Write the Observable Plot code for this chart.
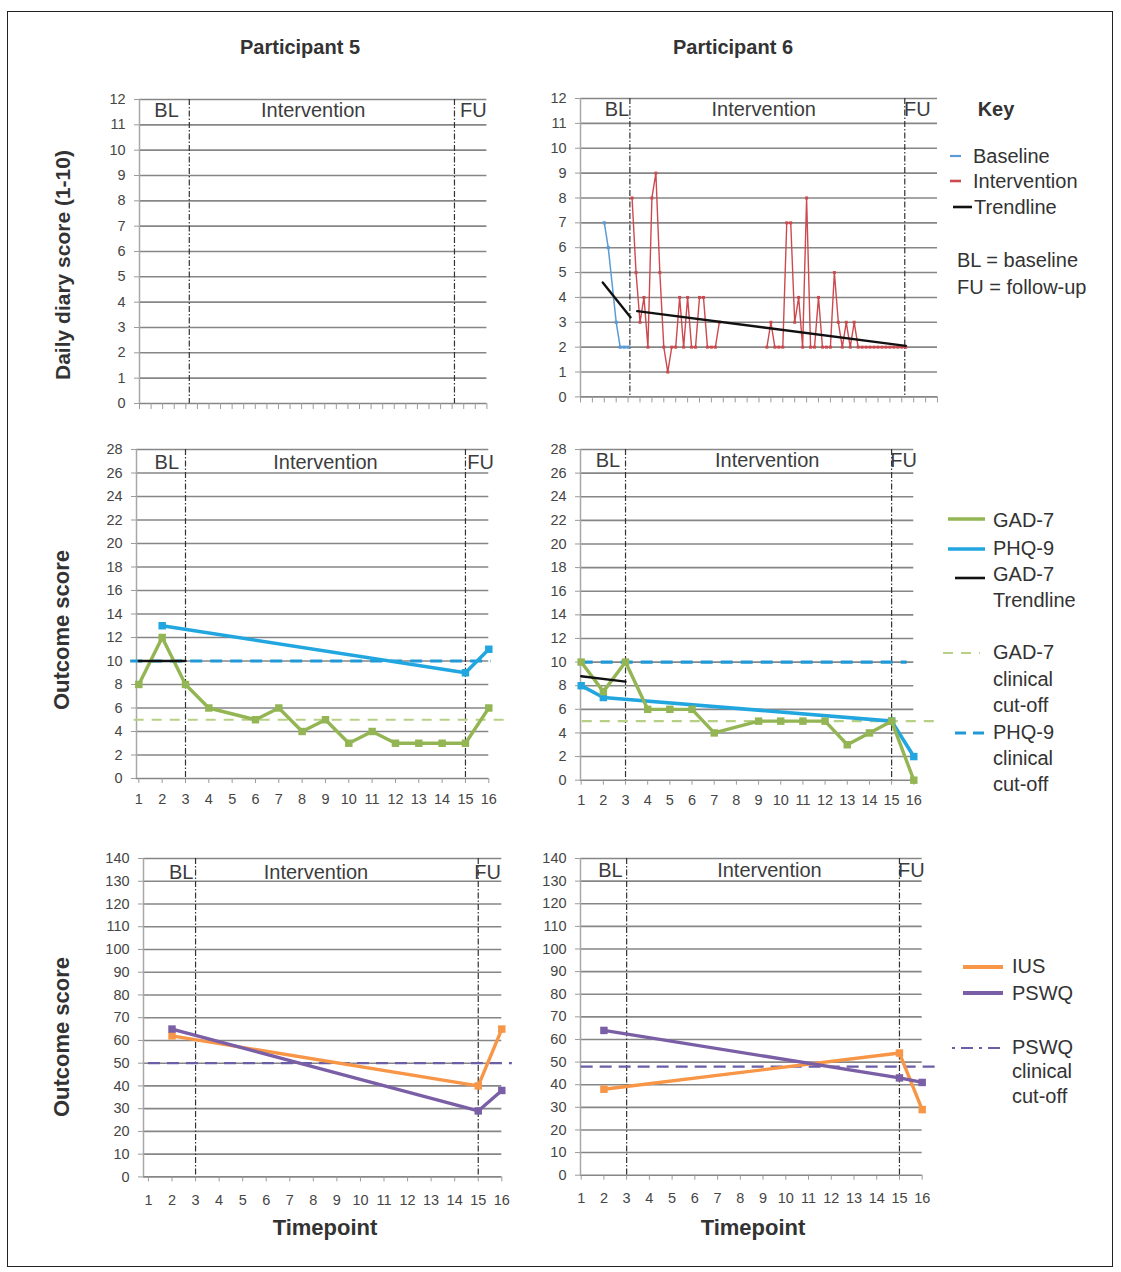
<!DOCTYPE html>
<html>
<head>
<meta charset="utf-8">
<script src="https://cdn.jsdelivr.net/npm/d3@7"></script>
<script src="https://cdn.jsdelivr.net/npm/@observablehq/plot@0.6"></script>
<style>
  body { margin: 0; background: #fff; font-family: "Liberation Sans", Arial, sans-serif; }
  #root { position: relative; width: 1121px; height: 1272px; overflow: hidden; background: #fff; }
  #root svg { overflow: visible; }
  .abs { position: absolute; white-space: nowrap; color: #333; line-height: 1; }
</style>
</head>
<body>
<div id="root"></div>
<script>
// ---------------- DATA ----------------
const phaseNames = ["BL", "Intervention", "FU"];
const timepoints = d3.range(1, 17);               // outcome timepoints 1..16
const outcomeTicks = d3.range(1, 17);
const diaryTicksY = d3.range(0, 13);
const outcomeTicksY = d3.range(0, 29, 2);
const bottomTicksY = d3.range(0, 141, 10);

// Participant 6 daily diary (day index on the x axis)
const p6BaselineDays = [6, 7, 9, 10, 11, 12];
const p6Baseline = [7, 6, 3, 2, 2, 2];
const p6InterventionDays = d3.range(13, 83);
const p6Intervention = [
  8, 5, 3, 4, 2, 8, 9, 5, 2, 1, 2, 2, 4, 2, 4, 2, 2, 4, 4, 2, 2, 2, 3,
  null, null, null, null, null, null, null, null, null, null, null,
  2, 3, 2, 2, 2, 7, 7, 3, 4, 2, 8, 2, 2, 4, 2, 2, 2, 5, 3, 2, 3, 2, 3,
  2, 2, 2, 2, 2, 2, 2, 2, 2, 2, 2, 2, 2
];
const p6BaselineTrendDays = [5.6, 12.6];
const p6BaselineTrend = [4.6, 3.2];
const p6InterventionTrendDays = [14.3, 82];
const p6InterventionTrend = [3.45, 2.05];

// Outcome measures (null = not measured)
const p5Gad7 = [8, 12, 8, 6, null, 5, 6, 4, 5, 3, 4, 3, 3, 3, 3, 6];
const p5Phq9 = [null, 13, null, null, null, null, null, null, null, null, null, null, null, null, 9, 11];
const p5Gad7TrendTime = [1, 3];
const p5Gad7Trend = [10, 10];
const p6Gad7 = [10, 7.5, 10, 6, 6, 6, 4, null, 5, 5, 5, 5, 3, 4, 5, 0];
const p6Phq9 = [8, 7, null, null, null, null, null, null, null, null, null, null, null, null, 5, 2];
const p6Gad7TrendTime = [1, 3];
const p6Gad7Trend = [8.8, 8.35];

const p5Ius  = [null, 62, null, null, null, null, null, null, null, null, null, null, null, null, 40, 65];
const p5Pswq = [null, 65, null, null, null, null, null, null, null, null, null, null, null, null, 29, 38];
const p6Ius  = [null, 38, null, null, null, null, null, null, null, null, null, null, null, null, 54, 29];
const p6Pswq = [null, 64, null, null, null, null, null, null, null, null, null, null, null, null, 43, 41];

const gad7Cutoff = 5;
const phq9Cutoff = 10;
const p5PswqCutoff = 50;
const p6PswqCutoff = 48;

// ---------------- HELPERS ----------------
const FONT = '"Liberation Sans", Arial, sans-serif';
const C = {
  base: "#5b9bd5", interv: "#cc4a4f", trend: "#111",
  gad: "#93b553", phq: "#22a6e0", gadCut: "#b8cf86", phqCut: "#2199d6",
  ius: "#f79646", pswq: "#7a5fa6", pswqCut: "#6b5ea8"
};
const root = document.getElementById("root");
const pts = (xs, ys) => xs.map((x, i) => ({x, y: ys[i]})).filter(d => d.y != null);
const ptsGap = (xs, ys) => xs.map((x, i) => ({x, y: ys[i]}));

function panel(c, marks) {
  const mL = 70, mR = 60, mT = 20, mB = 45;
  const W = mL + (c.xR - c.xL) + mR, H = mT + (c.yB - c.yT) + mB;
  const labels = phaseNames.map((t, i) => ({t, x: c.labelX[i], y: c.labelY}));
  const svg = Plot.plot({
    width: W, height: H,
    marginLeft: mL, marginRight: mR, marginTop: mT, marginBottom: mB,
    x: {domain: c.xDomain},
    y: {domain: c.yDomain},
    style: {background: "transparent", fontFamily: FONT, overflow: "visible"},
    marks: [
      Plot.ruleY(c.yTicks, {stroke: "#868686", strokeWidth: 1.6}),
      Plot.ruleX([c.xDomain[0]], {stroke: "#a8a8a8", strokeWidth: 1.5}),
      Plot.axisY(c.yTicks, {tickSize: 5, tickPadding: 9, fontSize: 14.5, fill: "#454545", stroke: "#9a9a9a", label: null}),
      Plot.axisX(c.xTicks, {tickSize: c.xTickSize, tickPadding: c.xTickPad, fontSize: 14.5, fill: "#454545", stroke: "#9a9a9a", label: null,
        tickFormat: c.xLabels ? (d => String(d)) : (() => "")}),
      Plot.ruleX(c.phaseLines, {stroke: "#333", strokeWidth: 1.2, strokeDasharray: "6,2,1.5,2"}),
      Plot.text(labels, {x: "x", y: "y", text: "t", fontSize: 20, fill: "#3c3c3c", fontFamily: FONT}),
      ...marks
    ]
  });
  svg.style.position = "absolute";
  svg.style.left = (c.xL - mL) + "px";
  svg.style.top = (c.yT - mT) + "px";
  svg.style.maxWidth = "none";
  root.appendChild(svg);
}

function text(str, x, y, o = {}) {
  const d = document.createElement("div");
  d.className = "abs";
  d.textContent = str;
  d.style.left = x + "px";
  d.style.top = y + "px";
  const tx = o.anchor === "middle" ? "-50%" : o.anchor === "end" ? "-100%" : "0";
  d.style.transform = `translate(${tx},-50%)` + (o.rotate ? ` rotate(${o.rotate}deg)` : "");
  d.style.fontSize = (o.size || 20) + "px";
  if (o.bold) d.style.fontWeight = "bold";
  if (o.color) d.style.color = o.color;
  root.appendChild(d);
}

function swatch(x1, x2, y, color, w, dash) {
  const ns = "http://www.w3.org/2000/svg";
  const s = document.createElementNS(ns, "svg");
  s.setAttribute("width", x2 - x1);
  s.setAttribute("height", 10);
  s.style.cssText = `position:absolute;left:${x1}px;top:${y - 5}px;overflow:visible`;
  const l = document.createElementNS(ns, "line");
  l.setAttribute("x1", 0); l.setAttribute("x2", x2 - x1);
  l.setAttribute("y1", 5); l.setAttribute("y2", 5);
  l.setAttribute("stroke", color); l.setAttribute("stroke-width", w);
  if (dash) l.setAttribute("stroke-dasharray", dash);
  s.appendChild(l);
  root.appendChild(s);
}

function seriesMarks(data, color, w, r) {
  return [
    Plot.line(data, {x: "x", y: "y", stroke: color, strokeWidth: w}),
    Plot.dot(data, {x: "x", y: "y", symbol: "square", r, fill: color})
  ];
}

// ---------------- PANELS ----------------
const diaryBase = {xDomain: [0, 90], yDomain: [0, 12], yTicks: diaryTicksY,
  xTicks: d3.range(0, 91, 3), xLabels: false, xTickSize: 6, xTickPad: 3};

// Participant 5 diary (no data)
panel({...diaryBase, xL: 139.3, xR: 486.7, yT: 99.3, yB: 403.3,
  phaseLines: [12.9, 81.6], labelX: [7, 45, 86.5], labelY: 11.55}, []);

// Participant 6 diary
panel({...diaryBase, xL: 580, xR: 937, yT: 98.3, yB: 396.7,
  phaseLines: [12.45, 81.75], labelX: [9.2, 46.2, 84.9], labelY: 11.55}, [
  ...seriesMarks(pts(p6BaselineDays, p6Baseline), C.base, 1.5, 1.8),
  Plot.line(ptsGap(p6InterventionDays, p6Intervention), {x: "x", y: "y", stroke: C.interv, strokeWidth: 1.4}),
  Plot.dot(pts(p6InterventionDays, p6Intervention), {x: "x", y: "y", symbol: "square", r: 1.7, fill: C.interv}),
  Plot.line(pts(p6BaselineTrendDays, p6BaselineTrend), {x: "x", y: "y", stroke: C.trend, strokeWidth: 2.4}),
  Plot.line(pts(p6InterventionTrendDays, p6InterventionTrend), {x: "x", y: "y", stroke: C.trend, strokeWidth: 2.4})
]);

const outBase = {yDomain: [0, 28], yTicks: outcomeTicksY, xTicks: outcomeTicks,
  xLabels: true, xTickSize: 5, xTickPad: 10, phaseLines: [3, 15]};

// Participant 5 GAD-7 / PHQ-9
panel({...outBase, xDomain: [0.9, 16], xL: 136, xR: 488.3, yT: 449.3, yB: 778.3,
  labelX: [2.2, 9.0, 15.65], labelY: 26.9}, [
  Plot.ruleY([gad7Cutoff], {x1: 0.8, x2: 17.0, stroke: C.gadCut, strokeWidth: 2.2, strokeDasharray: "10,8"}),
  Plot.ruleY([phq9Cutoff], {x1: 0.65, x2: 16.1, stroke: C.phqCut, strokeWidth: 3.2, strokeDasharray: "12,8"}),
  ...seriesMarks(pts(timepoints, p5Phq9), C.phq, 3.6, 4.2),
  ...seriesMarks(pts(timepoints, p5Gad7), C.gad, 3.4, 4.2),
  Plot.line(pts(p5Gad7TrendTime, p5Gad7Trend), {x: "x", y: "y", stroke: C.trend, strokeWidth: 2.4})
]);

// Participant 6 GAD-7 / PHQ-9
panel({...outBase, xDomain: [0.97, 16], xL: 580, xR: 913.3, yT: 449.3, yB: 780,
  labelX: [2.21, 9.39, 15.54], labelY: 27.1}, [
  Plot.ruleY([gad7Cutoff], {x1: 1.05, x2: 17.2, stroke: C.gadCut, strokeWidth: 2.2, strokeDasharray: "10,8"}),
  Plot.ruleY([phq9Cutoff], {x1: 1.0, x2: 15.7, stroke: C.phqCut, strokeWidth: 3.2, strokeDasharray: "12,8"}),
  ...seriesMarks(pts(timepoints, p6Phq9), C.phq, 3.6, 4.2),
  ...seriesMarks(pts(timepoints, p6Gad7), C.gad, 3.4, 4.2),
  Plot.line(pts(p6Gad7TrendTime, p6Gad7Trend), {x: "x", y: "y", stroke: C.trend, strokeWidth: 2.4})
]);

const botBase = {yDomain: [0, 140], yTicks: bottomTicksY, xTicks: outcomeTicks,
  xLabels: true, xTickSize: 5, xTickPad: 13, phaseLines: [3, 15]};

// Participant 5 IUS / PSWQ
panel({...botBase, xDomain: [0.79, 16], xL: 143.4, xR: 501.7, yT: 858.3, yB: 1176.7,
  labelX: [2.39, 8.11, 15.4], labelY: 133.7}, [
  Plot.ruleY([p5PswqCutoff], {x1: 1.0, x2: 16.45, stroke: C.pswqCut, strokeWidth: 2.2, strokeDasharray: "12,7"}),
  ...seriesMarks(pts(timepoints, p5Ius), C.ius, 3.4, 4.2),
  ...seriesMarks(pts(timepoints, p5Pswq), C.pswq, 3.4, 4.2)
]);

// Participant 6 IUS / PSWQ
panel({...botBase, xDomain: [0.97, 16], xL: 580, xR: 921.7, yT: 858.3, yB: 1175,
  labelX: [2.29, 9.28, 15.52], labelY: 134.8}, [
  Plot.ruleY([p6PswqCutoff], {x1: 1.0, x2: 16.8, stroke: C.pswqCut, strokeWidth: 2.2, strokeDasharray: "12,7"}),
  ...seriesMarks(pts(timepoints, p6Ius), C.ius, 3.4, 4.2),
  ...seriesMarks(pts(timepoints, p6Pswq), C.pswq, 3.4, 4.2)
]);

// ---------------- TEXT ----------------
const border = document.createElement("div");
border.style.cssText = "position:absolute;left:7px;top:11px;width:1104px;height:1254px;border:1.5px solid #222;";
root.appendChild(border);

text("Participant 5", 300, 47, {anchor: "middle", bold: true, size: 20});
text("Participant 6", 733, 47, {anchor: "middle", bold: true, size: 20});
text("Daily diary score (1-10)", 62, 265, {anchor: "middle", bold: true, size: 21, rotate: -90});
text("Outcome score", 62, 630, {anchor: "middle", bold: true, size: 22, rotate: -90});
text("Outcome score", 62, 1037, {anchor: "middle", bold: true, size: 22, rotate: -90});
text("Timepoint", 325, 1228, {anchor: "middle", bold: true, size: 22});
text("Timepoint", 753, 1228, {anchor: "middle", bold: true, size: 22});

// Key - diary
text("Key", 996, 109, {anchor: "middle", bold: true, size: 20});
swatch(950, 961, 156, C.base, 2.2);
text("Baseline", 973, 156, {size: 20});
swatch(950, 961, 181, C.interv, 2.6);
text("Intervention", 973, 181, {size: 20});
swatch(953, 972, 207, C.trend, 2.6);
text("Trendline", 974, 207, {size: 20});
text("BL = baseline", 957, 260, {size: 20});
text("FU = follow-up", 957, 287, {size: 20});

// Key - GAD/PHQ
swatch(948, 985, 519, C.gad, 3.5);
text("GAD-7", 993, 520, {size: 20});
swatch(948, 985, 549, C.phq, 3.5);
text("PHQ-9", 993, 548, {size: 20});
swatch(955, 985, 578, C.trend, 2.6);
text("GAD-7", 993, 574, {size: 20});
text("Trendline", 993, 600, {size: 20});
swatch(943, 980, 653, C.gadCut, 2.2, "10,8");
text("GAD-7", 993, 652, {size: 20});
text("clinical", 993, 679, {size: 20});
text("cut-off", 993, 705, {size: 20});
swatch(955, 985, 733, C.phqCut, 3, "11,7");
text("PHQ-9", 993, 732, {size: 20});
text("clinical", 993, 758, {size: 20});
text("cut-off", 993, 784, {size: 20});

// Key - IUS/PSWQ
swatch(963, 1003, 967, C.ius, 4);
text("IUS", 1012, 966, {size: 20});
swatch(963, 1003, 993, C.pswq, 4);
text("PSWQ", 1012, 993, {size: 20});
swatch(952, 1003, 1048, C.pswqCut, 2.2, "3,6,12,6");
text("PSWQ", 1012, 1047, {size: 20});
text("clinical", 1012, 1071, {size: 20});
text("cut-off", 1012, 1096, {size: 20});
</script>
</body>
</html>
